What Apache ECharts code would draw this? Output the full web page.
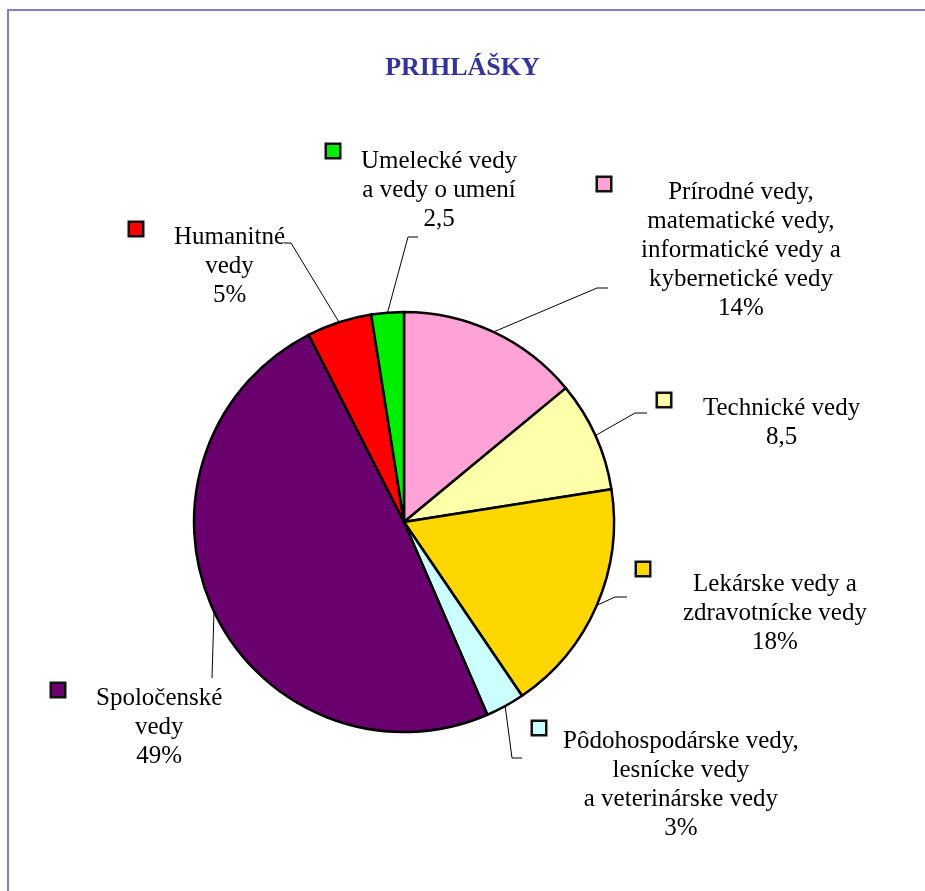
<!DOCTYPE html>
<html>
<head>
    <meta charset="utf-8">
    <title>PRIHLÁŠKY</title>
    <script src="https://cdn.jsdelivr.net/npm/echarts@6/dist/echarts.min.js"></script>
    <style>
        html, body { margin: 0; padding: 0; background: #fff; }
        #chart { width: 925px; height: 891px; }
    </style>
</head>
<body>
<div id="chart"></div>
<script>
    // data
    const categories = [
        'Prírodné vedy, matematické vedy, informatické vedy a kybernetické vedy',
        'Technické vedy',
        'Lekárske vedy a zdravotnícke vedy',
        'Pôdohospodárske vedy, lesnícke vedy a veterinárske vedy',
        'Spoločenské vedy',
        'Humanitné vedy',
        'Umelecké vedy a vedy o umení'
    ];
    const values = [14, 8.5, 18, 3, 49, 5, 2.5];
    const valueLabels = ['14%', '8,5', '18%', '3%', '49%', '5%', '2,5'];
    // label text split into lines as in the picture
    const labelLines = [
        ['Prírodné vedy,', 'matematické vedy,', 'informatické vedy a', 'kybernetické vedy'],
        ['Technické vedy'],
        ['Lekárske vedy a', 'zdravotnícke vedy'],
        ['Pôdohospodárske vedy,', 'lesnícke vedy', 'a veterinárske vedy'],
        ['Spoločenské', 'vedy'],
        ['Humanitné', 'vedy'],
        ['Umelecké vedy', 'a vedy o umení']
    ];
    const colors = ['#FFA3D6', '#FFFFAA', '#FFD700', '#CCFFFF', '#6A006E', '#FF0000', '#00EE00'];

    // label placement: [left of key square, top, gap key->text, drop of text under key]
    const labelPos = [
        [598, 178, 29, 0],
        [658, 394, 31, 0],
        [637, 563, 32, 7],
        [533, 722, 16, 5],
        [52, 684, 30, 0],
        [130, 223, 30, 0],
        [327, 145, 20, 2]
    ];
    // leader line bend and end points (start comes from the slice)
    const guidePts = [
        [[597, 288], [608, 288]],
        [[635, 413], [647, 413]],
        [[615, 597], [627, 597]],
        [[512, 758], [522, 758]],
        [[212, 678]],
        [[291, 243], [284, 243]],
        [[408, 237], [418, 237]]
    ];

    const rich = {
        t: {
            fontFamily: 'Liberation Serif',
            fontSize: 25,
            lineHeight: 29,
            color: '#000',
            align: 'center'
        }
    };
    colors.forEach((c, i) => {
        const drop = labelPos[i][3];
        rich['k' + i] = {
            width: 12, height: 12,
            backgroundColor: c,
            borderColor: '#111',
            borderWidth: 2.5,
            align: 'left',
            verticalAlign: 'top'
        };
        if (drop > 0) rich['k' + i].lineHeight = drop;
        rich['g' + i] = { width: labelPos[i][2] + 2, align: 'left' };
        rich['h' + i] = { width: labelPos[i][2] + 14, align: 'left' };
    });

    const chart = echarts.init(document.getElementById('chart'));

    const option = {
        backgroundColor: '#fff',
        animation: false,
        title: {
            text: 'PRIHLÁŠKY',
            left: 'center',
            top: 50,
            textStyle: {
                fontFamily: 'Liberation Serif',
                fontWeight: 'bold',
                fontSize: 26,
                color: '#333399'
            }
        },
        graphic: [
            {
                type: 'polyline',
                shape: { points: [[8, 891], [8, 10], [925, 10]] },
                style: { stroke: '#8080c0', lineWidth: 2, fill: null }
            }
        ],
        series: [
            {
                type: 'pie',
                center: [404, 522],
                radius: 210,
                startAngle: 90,
                clockwise: true,
                avoidLabelOverlap: false,
                data: categories.map((name, i) => ({
                    name: name,
                    value: values[i],
                    itemStyle: { color: colors[i] }
                })),
                itemStyle: {
                    borderColor: '#000',
                    borderWidth: 2.5
                },
                label: {
                    show: true,
                    position: 'outside',
                    lineHeight: 29,
                    formatter: p => {
                        const i = p.dataIndex;
                        const lines = labelLines[i].concat(valueLabels[i]);
                        const drop = labelPos[i][3];
                        const body = lines.map((s, j) =>
                            (j === 0 && !drop ? '{k' + i + '|}{g' + i + '|}' : '{h' + i + '|}') + '{t|' + s + '}'
                        ).join('\n');
                        return drop ? '{k' + i + '|}\n' + body : body;
                    },
                    rich: rich
                },
                labelLine: {
                    show: true,
                    length: 15,
                    length2: 12,
                    lineStyle: { color: '#000', width: 1 }
                },
                labelLayout: params => {
                    const i = params.dataIndex;
                    const p = labelPos[i];
                    const res = { x: p[0], y: p[1], align: 'left', verticalAlign: 'top' };
                    if (params.labelLinePoints && params.labelLinePoints[0]) {
                        res.labelLinePoints = [params.labelLinePoints[0]].concat(guidePts[i]);
                    }
                    return res;
                }
            }
        ]
    };

    chart.setOption(option);
</script>
</body>
</html>
